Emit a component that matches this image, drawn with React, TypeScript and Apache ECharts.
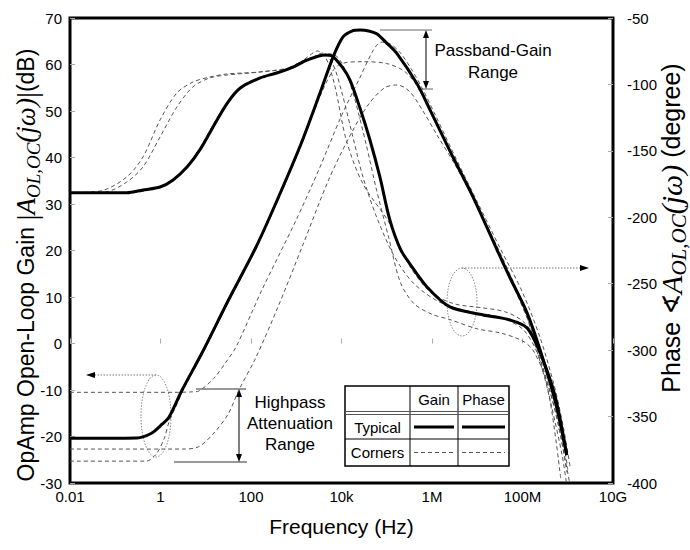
import React, { useEffect, useRef } from "react";
import * as echarts from "echarts";

// ---------- axis ticks ----------
const xTickValues = [0.01, 1, 100, 1e4, 1e6, 1e8, 1e10];
const xTickLabels = ["0.01", "1", "100", "10k", "1M", "100M", "10G"];

// ---------- typical curves ----------
const typGainHz = [0.01, 0.3, 0.63, 1.1, 1.55, 3, 8.3, 32, 130, 355, 1200, 3300, 6500, 10700, 17000, 25700, 40000, 60000, 100000, 170000, 470000, 910000, 2.9e6, 8.1e6, 2.75e7, 5.2e7, 1.26e8, 2.45e8, 5.2e8, 9.5e8];
const typGainDb = [-20.4, -20.3, -19.3, -17.3, -15.8, -10, -2, 9.4, 20.8, 30.2, 42.3, 53.7, 61.6, 65.9, 67.2, 67.4, 67.2, 66.6, 64.6, 62.3, 55.8, 50.2, 40.1, 31.5, 20.1, 14.3, 6.6, -1.4, -12.2, -24];

const typPhaseHz = [0.01, 0.18, 0.41, 0.98, 1.9, 3.9, 7.4, 14.5, 30, 58, 160, 370, 850, 1740, 4400, 6200, 10700, 15500, 25700, 42700, 71000, 117000, 200000, 324000, 776000, 2.5e6, 1.35e7, 5.2e7, 1.26e8, 2.45e8, 5.2e8, 9.5e8];
const typPhaseDeg = [-181.5, -181.5, -179.4, -177.2, -171.9, -162, -149.3, -132, -114, -102.7, -95.1, -91.4, -86.9, -81.6, -77.8, -78.6, -87.6, -97, -118, -142, -170, -202, -224, -235, -252.4, -267.5, -273.5, -277.2, -283.3, -302, -334, -379];

// ---------- corner curves (gain) ----------
const gainC1Hz = [0.01, 2, 5, 7.1, 15, 28, 47, 174, 1000, 3200, 10000, 25000, 50000, 75000, 120000, 200000, 350000, 600000, 1.2e6, 3.5e6, 1e7, 3.2e7, 1e8, 2.5e8, 5e8, 8e8, 1.15e9];
const gainC1Db = [-10.5, -10.5, -10.4, -10.2, -7.5, -4, -0.7, 11.5, 26.6, 37.5, 49, 57, 63, 64.8, 64.4, 62.5, 59, 55, 49, 39.5, 30.5, 20.5, 11, 1, -9, -18, -27];

const gainC2Hz = [0.01, 3, 7, 16, 32, 54, 130, 400, 1350, 5200, 16000, 40000, 90000, 170000, 320000, 630000, 1.26e6, 3.2e6, 1e7, 3.2e7, 1e8, 2e8, 4e8, 7e8];
const gainC2Db = [-22.7, -22.7, -22.2, -19, -15, -10, -2.9, 8, 20.8, 35.2, 45, 51.5, 55, 55.6, 54.2, 50, 45, 38.5, 29.5, 19.5, 8.5, -1, -12, -29];

const gainC3Hz = [0.01, 0.48, 0.8, 1.2, 1.55, 2.2, 3, 8.3, 32, 130, 355, 1200, 3300, 6300, 10000, 30000, 100000, 250000, 500000, 1e6, 2.9e6, 8.1e6, 2.75e7, 1.26e8, 2.45e8, 4.5e8, 7.5e8, 1e9];
const gainC3Db = [-25.3, -25.3, -23.8, -20.5, -16.8, -13.5, -10.5, -2.4, 9, 20.4, 29.8, 41.8, 53, 58.5, 60.2, 60.6, 60.2, 58.5, 55, 49.5, 40, 31.2, 20, 5.5, -3, -14, -24, -32];

// ---------- corner curves (phase) ----------
const phaseC1Hz = [0.01, 0.05, 0.18, 0.41, 0.98, 2.3, 5.2, 12.3, 30, 160, 850, 2000, 2900, 4500, 7000, 13000, 30000, 117000, 300000, 900000, 3e6, 1.2e7, 4e7, 1e8, 2e8, 4e8, 8e8, 1e9];
const phaseC1Deg = [-181.5, -180, -169.6, -154.6, -126.7, -106.4, -98.2, -94.4, -92.1, -90.6, -86.9, -78, -74.8, -80, -100, -143, -175, -205, -235, -256, -265, -268, -271, -278, -292, -322, -368, -390];

const phaseC2Hz = [0.01, 0.06, 0.18, 0.41, 0.98, 2.3, 5.2, 12.3, 30, 160, 850, 2500, 3900, 6500, 10000, 18000, 30000, 60000, 150000, 400000, 1.5e6, 7e6, 3e7, 1e8, 2e8, 4e8, 7e8, 9.5e8];
const phaseC2Deg = [-181.5, -181, -173.4, -162.1, -139.5, -117, -101.9, -95.1, -92.9, -90.6, -86.9, -79, -76.3, -85, -105, -140, -170, -200, -230, -250, -264, -271, -275, -284, -300, -330, -365, -392];

const phaseC3Hz = [0.01, 0.25, 0.6, 1.3, 2.5, 5, 9, 18, 35, 70, 200, 500, 1100, 2500, 5500, 8500, 13000, 20000, 35000, 60000, 110000, 200000, 400000, 1e6, 2.5e6, 1e7, 3.2e7, 1e8, 1.7e8, 3e8, 5.5e8, 1.1e9];
const phaseC3Deg = [-181.5, -181.5, -179, -175, -168, -157, -143, -125, -110, -100, -93.5, -89.5, -84, -79, -77, -80, -92, -112, -145, -180, -215, -249, -265, -273, -277, -284, -287, -293, -300, -318, -348, -400];

// ---------- table legend ----------
const tableCols = ["", "Gain", "Phase"];
const tableRows = ["Typical", "Corners"];

const zip = (a: number[], b: number[]) => a.map((v, i) => [v, b[i]]);

const SANS = "'Liberation Sans', Arial, Helvetica, sans-serif";
const SERIF = "'Liberation Serif', 'Times New Roman', serif";

export default function App() {
  const ref = useRef<HTMLDivElement>(null);

  useEffect(() => {
    document.body.style.margin = "0";
    if (!ref.current) return;
    const chart = echarts.init(ref.current, undefined, { renderer: "svg" });

    const dashed = { type: [4, 3] as any, width: 1, color: "#555" };
    const thick = { width: 3, color: "#000" };
    const mk = (name: string, data: number[][], yAxisIndex: number, ls: any) => ({
      name,
      type: "line",
      data,
      yAxisIndex,
      smooth: 0.3,
      showSymbol: false,
      symbol: "none",
      lineStyle: ls,
      silent: true,
    });

    const tx = [345, 410, 458, 509];
    const ty = [386, 413, 439, 466];
    const arrowGray = "#777";
    const txt = (x: number, y: number, text: string, size: number) => ({
      type: "text",
      x,
      y,
      style: { text, fontSize: size, fontFamily: SANS, fill: "#000", align: "center", verticalAlign: "middle" },
    });

    const leftRich = {
      bar: { fontSize: 30, fontFamily: SERIF, lineHeight: 34, fill: "#000" },
      it: { fontSize: 27, fontFamily: SERIF, fontStyle: "italic", lineHeight: 34, fill: "#000" },
      sub: { fontSize: 19, fontFamily: SERIF, fontStyle: "italic", lineHeight: 19, verticalAlign: "bottom", fill: "#000" },
    };
    const rightRich = {
      ang: { fontSize: 25, fontFamily: "'DejaVu Sans', sans-serif", lineHeight: 36, fill: "#000" },
      it: { fontSize: 30, fontFamily: SERIF, fontStyle: "italic", lineHeight: 36, fill: "#000" },
      sub: { fontSize: 21, fontFamily: SERIF, fontStyle: "italic", lineHeight: 21, verticalAlign: "bottom", fill: "#000" },
    };

    const graphic: any[] = [
      // left ellipse + arrow
      { type: "ellipse", shape: { cx: 156, cy: 416, rx: 15, ry: 41 }, style: { fill: "none", stroke: "#888", lineWidth: 1, lineDash: [1.5, 1.5] } },
      { type: "line", shape: { x1: 156, y1: 375, x2: 93, y2: 375 }, style: { stroke: arrowGray, lineWidth: 1, lineDash: [1.5, 1.5] } },
      { type: "polygon", shape: { points: [[86, 375], [95, 372], [95, 378]] }, style: { fill: "#000" } },
      // right ellipse + arrow
      { type: "ellipse", shape: { cx: 462, cy: 302, rx: 15, ry: 34 }, style: { fill: "none", stroke: "#888", lineWidth: 1, lineDash: [1.5, 1.5] } },
      { type: "line", shape: { x1: 462, y1: 268, x2: 582, y2: 268 }, style: { stroke: arrowGray, lineWidth: 1, lineDash: [1.5, 1.5] } },
      { type: "polygon", shape: { points: [[589, 268], [580, 265], [580, 271]] }, style: { fill: "#000" } },
      // passband range
      { type: "line", shape: { x1: 380, y1: 30, x2: 432, y2: 30 }, style: { stroke: "#666", lineWidth: 1 } },
      { type: "line", shape: { x1: 418, y1: 89, x2: 433, y2: 89 }, style: { stroke: "#666", lineWidth: 1 } },
      { type: "line", shape: { x1: 426, y1: 36, x2: 426, y2: 83 }, style: { stroke: "#000", lineWidth: 1 } },
      { type: "polygon", shape: { points: [[426, 30], [423, 38], [429, 38]] }, style: { fill: "#000" } },
      { type: "polygon", shape: { points: [[426, 89], [423, 81], [429, 81]] }, style: { fill: "#000" } },
      txt(493, 50, "Passband-Gain", 17),
      txt(493, 72, "Range", 17),
      // highpass attenuation range
      { type: "line", shape: { x1: 196, y1: 389, x2: 246, y2: 389 }, style: { stroke: "#333", lineWidth: 1 } },
      { type: "line", shape: { x1: 174, y1: 462, x2: 247, y2: 462 }, style: { stroke: "#333", lineWidth: 1 } },
      { type: "line", shape: { x1: 239, y1: 395, x2: 239, y2: 456 }, style: { stroke: "#000", lineWidth: 1 } },
      { type: "polygon", shape: { points: [[239, 389], [236, 397], [242, 397]] }, style: { fill: "#000" } },
      { type: "polygon", shape: { points: [[239, 462], [236, 454], [242, 454]] }, style: { fill: "#000" } },
      txt(290, 402, "Highpass", 17),
      txt(290, 423, "Attenuation", 17),
      txt(290, 444, "Range", 17),
      // table
      { type: "rect", shape: { x: tx[0], y: ty[0], width: tx[3] - tx[0], height: ty[3] - ty[0] }, style: { fill: "#fff", stroke: "#000", lineWidth: 1.5 } },
      { type: "line", shape: { x1: tx[1], y1: ty[0], x2: tx[1], y2: ty[3] }, style: { stroke: "#000", lineWidth: 1 } },
      { type: "line", shape: { x1: tx[2], y1: ty[0], x2: tx[2], y2: ty[3] }, style: { stroke: "#000", lineWidth: 1 } },
      { type: "line", shape: { x1: tx[0], y1: ty[1] - 1.5, x2: tx[3], y2: ty[1] - 1.5 }, style: { stroke: "#555", lineWidth: 1 } },
      { type: "line", shape: { x1: tx[0], y1: ty[1] + 1.5, x2: tx[3], y2: ty[1] + 1.5 }, style: { stroke: "#555", lineWidth: 1 } },
      { type: "line", shape: { x1: tx[0], y1: ty[2], x2: tx[3], y2: ty[2] }, style: { stroke: "#000", lineWidth: 1 } },
      txt((tx[1] + tx[2]) / 2, (ty[0] + ty[1]) / 2, tableCols[1], 15),
      txt((tx[2] + tx[3]) / 2, (ty[0] + ty[1]) / 2, tableCols[2], 15),
      txt((tx[0] + tx[1]) / 2, (ty[1] + ty[2]) / 2 + 1, tableRows[0], 15),
      txt((tx[0] + tx[1]) / 2, (ty[2] + ty[3]) / 2, tableRows[1], 15),
      { type: "line", shape: { x1: tx[1] + 4, y1: (ty[1] + ty[2]) / 2 + 1, x2: tx[2] - 4, y2: (ty[1] + ty[2]) / 2 + 1 }, style: { stroke: "#000", lineWidth: 3 } },
      { type: "line", shape: { x1: tx[2] + 4, y1: (ty[1] + ty[2]) / 2 + 1, x2: tx[3] - 4, y2: (ty[1] + ty[2]) / 2 + 1 }, style: { stroke: "#000", lineWidth: 3 } },
      { type: "line", shape: { x1: tx[1] + 4, y1: (ty[2] + ty[3]) / 2, x2: tx[2] - 4, y2: (ty[2] + ty[3]) / 2 }, style: { stroke: "#555", lineWidth: 1, lineDash: [4, 3] } },
      { type: "line", shape: { x1: tx[2] + 4, y1: (ty[2] + ty[3]) / 2, x2: tx[3] - 4, y2: (ty[2] + ty[3]) / 2 }, style: { stroke: "#555", lineWidth: 1, lineDash: [4, 3] } },
      // axis titles
      {
        type: "text",
        x: 26,
        y: 265,
        rotation: Math.PI / 2,
        style: {
          text: "OpAmp Open-Loop Gain {bar||}{it|A}{sub|OL,OC}{it|(jω)}{bar||}(dB)",
          fontSize: 23,
          fontFamily: SANS,
          fill: "#000",
          align: "center",
          verticalAlign: "middle",
          lineHeight: 34,
          rich: leftRich,
        },
      },
      {
        type: "text",
        x: 671,
        y: 228,
        rotation: Math.PI / 2,
        style: {
          text: "Phase {ang|∢}{it|A}{sub|OL,OC}{it|(jω)} (degree)",
          fontSize: 25,
          fontFamily: SANS,
          fill: "#000",
          align: "center",
          verticalAlign: "middle",
          lineHeight: 36,
          rich: rightRich,
        },
      },
    ];

    chart.setOption({
      animation: false,
      backgroundColor: "#fff",
      grid: { left: 70, right: 77, top: 18, bottom: 67, show: true, borderColor: "#000", borderWidth: 3, backgroundColor: "transparent" },
      xAxis: {
        type: "log",
        logBase: 10,
        min: 0.01,
        max: 1e10,
        interval: 2,
        name: "Frequency (Hz)",
        nameLocation: "middle",
        nameGap: 33,
        nameTextStyle: { fontSize: 21, fontFamily: SANS, color: "#000" },
        axisLine: { show: false },
        axisTick: { show: true, inside: true, length: 5, lineStyle: { color: "#aaa" } },
        minorTick: { show: false },
        splitLine: { show: false },
        axisLabel: {
          fontSize: 15,
          fontFamily: SANS,
          color: "#000",
          margin: 6,
          formatter: (v: number) => {
            const e = Math.round(Math.log10(v));
            const i = xTickValues.findIndex((t) => Math.round(Math.log10(t)) === e);
            return i >= 0 ? xTickLabels[i] : "";
          },
        },
      },
      yAxis: [
        {
          type: "value",
          min: -30,
          max: 70,
          interval: 10,
          position: "left",
          axisLine: { show: false },
          axisTick: { show: true, inside: true, length: 5, lineStyle: { color: "#aaa" } },
          splitLine: { show: false },
          axisLabel: { fontSize: 15, fontFamily: SANS, color: "#000", margin: 8 },
        },
        {
          type: "value",
          min: -400,
          max: -50,
          interval: 50,
          position: "right",
          axisLine: { show: false },
          axisTick: { show: true, inside: true, length: 5, lineStyle: { color: "#aaa" } },
          splitLine: { show: false },
          axisLabel: { fontSize: 15, fontFamily: SANS, color: "#000", margin: 14 },
        },
      ],
      series: [
        mk("Phase corner 1", zip(phaseC1Hz, phaseC1Deg), 1, dashed),
        mk("Phase corner 2", zip(phaseC2Hz, phaseC2Deg), 1, dashed),
        mk("Phase corner 3", zip(phaseC3Hz, phaseC3Deg), 1, dashed),
        mk("Gain corner 1", zip(gainC1Hz, gainC1Db), 0, dashed),
        mk("Gain corner 2", zip(gainC2Hz, gainC2Db), 0, dashed),
        mk("Gain corner 3", zip(gainC3Hz, gainC3Db), 0, dashed),
        mk("Typical phase", zip(typPhaseHz, typPhaseDeg), 1, thick),
        mk("Typical gain", zip(typGainHz, typGainDb), 0, thick),
      ],
      graphic,
    });

    return () => chart.dispose();
  }, []);

  return <div ref={ref} style={{ width: 690, height: 550 }} />;
}
